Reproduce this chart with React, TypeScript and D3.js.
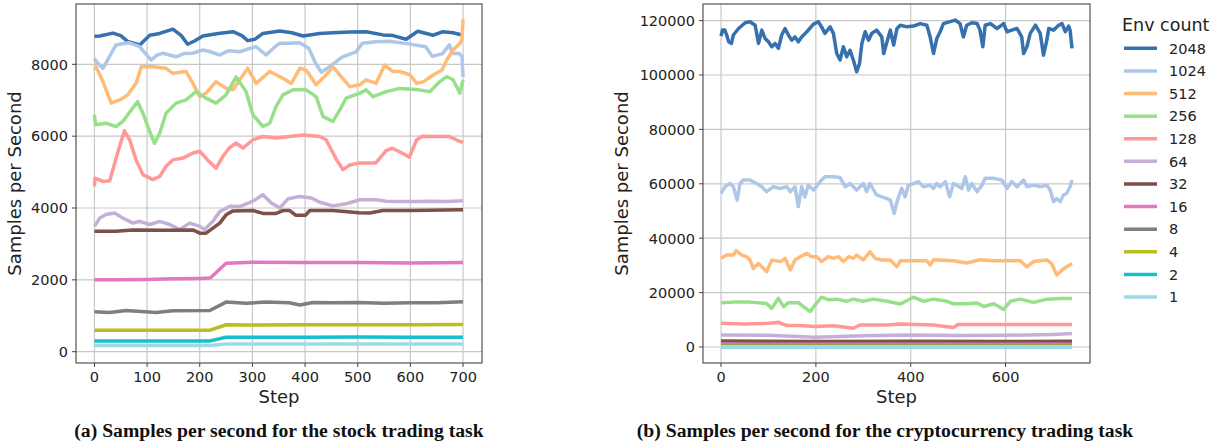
import React, { useEffect, useRef } from "react";
import * as d3 from "d3";

// legend order, also the drawing order
const envCounts = ["2048", "1024", "512", "256", "128", "64", "32", "16", "8", "4", "2", "1"];
const colors = [
  "#3571ae", "#aec7e8", "#ffbb78", "#98df8a", "#ff9896", "#c5b0d5",
  "#7d5148", "#e377c2", "#7f7f7f", "#bcbd22", "#17becf", "#9edae5",
];

// ---- (a) stock trading, [step, samples/s] ----
const stock2048 = [[0,8780],[10,8790],[35,8870],[50,8800],[63,8640],[86,8540],[105,8810],[124,8860],[149,8980],[165,8800],[177,8560],[190,8650],[206,8790],[235,8860],[263,8910],[280,8800],[291,8660],[305,8700],[320,8860],[352,8930],[375,8880],[396,8790],[428,8860],[453,8880],[485,8900],[516,8910],[548,8820],[567,8800],[592,8700],[614,8920],[643,8810],[662,8910],[681,8880],[700,8810]];
const stock1024 = [[0,8170],[5,8050],[16,7890],[28,8200],[41,8540],[55,8580],[67,8600],[86,8490],[100,8250],[108,8120],[118,8250],[130,8310],[155,8210],[170,8300],[187,8310],[206,8400],[220,8350],[238,8260],[255,8380],[276,8350],[290,8420],[307,8490],[326,8260],[340,8450],[352,8590],[370,8590],[390,8600],[407,8450],[420,8030],[431,7780],[446,7930],[471,8210],[497,8350],[509,8590],[534,8630],[560,8640],[597,8570],[629,8490],[642,8220],[661,8300],[674,8540],[680,8300],[693,8300],[698,8220],[700,7650]];
const stock512 = [[0,7850],[3,7930],[16,7520],[32,6920],[48,7010],[63,7150],[79,7470],[89,7930],[111,7930],[136,7890],[149,7750],[174,7800],[187,7470],[200,7100],[212,7200],[231,7520],[250,7330],[263,7290],[276,7570],[291,7890],[307,7470],[333,7800],[358,7610],[374,7470],[390,7890],[402,7840],[421,7430],[437,7660],[453,7930],[466,7700],[485,7380],[504,7430],[516,7570],[535,7470],[551,7980],[567,7800],[580,7800],[599,7710],[612,7470],[625,7520],[644,7710],[660,7840],[669,8120],[681,8400],[694,8580],[698,8700],[700,9250]];
const stock256 = [[0,6600],[2,6320],[22,6360],[41,6270],[54,6410],[70,6730],[82,6960],[92,6640],[105,6130],[114,5800],[124,6090],[136,6640],[155,6920],[174,7010],[193,7240],[212,7060],[231,6920],[250,7150],[269,7650],[288,7240],[301,6590],[320,6270],[333,6360],[345,6830],[358,7150],[377,7290],[402,7290],[421,7100],[434,6550],[453,6410],[466,6730],[478,7060],[504,7200],[516,7290],[529,7100],[554,7240],[580,7330],[611,7300],[637,7240],[656,7520],[669,7660],[681,7570],[694,7200],[700,7570]];
const stock128 = [[0,4600],[1,4830],[16,4740],[29,4760],[44,5530],[57,6150],[67,5900],[79,5340],[92,4930],[111,4790],[124,4880],[136,5160],[149,5340],[168,5390],[187,5530],[200,5580],[215,5340],[231,5110],[244,5440],[256,5670],[269,5810],[282,5670],[301,5900],[320,5990],[345,5950],[371,5990],[396,6030],[428,5990],[440,5900],[447,5700],[460,5340],[472,5070],[485,5200],[502,5250],[534,5250],[554,5600],[566,5665],[585,5525],[598,5415],[612,5900],[623,6000],[649,5990],[674,5990],[687,5900],[700,5820]];
const stock64 = [[0,3490],[10,3720],[22,3820],[38,3860],[54,3720],[73,3580],[86,3630],[105,3540],[124,3630],[143,3540],[162,3400],[181,3580],[200,3490],[209,3400],[225,3630],[238,3900],[257,4050],[276,4040],[301,4190],[320,4370],[336,4140],[352,4000],[368,4260],[390,4320],[412,4280],[428,4160],[453,4060],[478,4120],[504,4230],[535,4230],[554,4190],[580,4180],[611,4180],[640,4190],[670,4180],[700,4200]];
const stock32 = [[0,3350],[41,3350],[73,3390],[136,3380],[187,3390],[200,3300],[212,3300],[225,3440],[238,3580],[250,3810],[263,3920],[301,3930],[320,3850],[345,3850],[358,3930],[371,3930],[382,3800],[401,3800],[409,3930],[453,3930],[502,3870],[523,3860],[548,3930],[600,3930],[700,3950]];
const stock16 = [[0,2000],[50,2000],[100,2010],[150,2030],[200,2040],[220,2050],[250,2460],[300,2490],[400,2480],[500,2480],[600,2470],[700,2480]];
const stock8 = [[0,1115],[29,1090],[60,1145],[117,1090],[149,1140],[219,1145],[250,1380],[288,1350],[326,1380],[370,1360],[390,1300],[415,1370],[450,1360],[500,1370],[550,1350],[600,1360],[650,1360],[700,1390]];
const stock4 = [[0,600],[220,600],[250,750],[300,740],[400,750],[500,750],[600,750],[700,760]];
const stock2 = [[0,300],[220,300],[250,400],[400,400],[500,410],[600,400],[700,400]];
const stock1 = [[0,170],[220,170],[250,215],[700,215]];

// ---- (b) cryptocurrency trading ----
const crypto2048 = [[0,114300],[3,116500],[8,116500],[12,114700],[16,112200],[22,111600],[26,114700],[37,117100],[51,119200],[61,119600],[72,118300],[79,111600],[86,116500],[93,113400],[100,112200],[107,110400],[114,111600],[121,109800],[128,114700],[135,117100],[142,114700],[149,112800],[156,114000],[163,112200],[170,114000],[181,115900],[195,118700],[205,119600],[212,117700],[219,115300],[230,117700],[237,115300],[244,107900],[251,105500],[258,110400],[265,106700],[272,109100],[279,105500],[286,101200],[292,104200],[297,111600],[304,115900],[311,112800],[318,115300],[328,116500],[339,114000],[343,107900],[350,112200],[357,116500],[364,111000],[371,117100],[378,118300],[392,117700],[406,118000],[420,118900],[434,118300],[441,114000],[448,107900],[455,113400],[462,115900],[469,118900],[483,119600],[494,120200],[504,118900],[511,114000],[518,118300],[529,119200],[540,118900],[546,116500],[552,110400],[557,118300],[568,118900],[582,117100],[596,118900],[603,115900],[613,116500],[624,117100],[634,114000],[638,107900],[645,110400],[652,115300],[663,118300],[673,115300],[680,107300],[687,112800],[691,117100],[701,116500],[712,118300],[719,118900],[726,115900],[733,118000],[736,116500],[740,109800]];
const crypto1024 = [[0,56500],[8,58900],[19,60100],[26,58900],[34,54000],[40,60100],[47,61400],[61,61400],[75,60100],[86,58900],[96,57100],[110,58900],[125,58300],[139,58900],[146,57100],[156,58900],[163,51600],[170,58900],[177,55200],[184,59500],[195,57700],[209,60800],[219,62600],[237,62600],[251,62300],[262,58900],[272,60100],[286,57700],[300,60100],[307,57100],[314,60100],[322,57700],[328,55900],[339,55200],[350,54600],[357,54000],[365,49100],[372,54000],[381,58300],[388,55200],[395,59500],[406,60100],[416,60800],[427,58900],[441,59500],[448,58300],[455,60100],[462,58900],[473,60800],[482,55200],[490,60100],[497,59500],[508,58300],[515,62600],[522,57700],[529,60100],[540,57100],[550,59500],[557,62000],[575,62000],[592,61400],[603,58300],[613,60800],[624,58900],[638,61400],[645,58900],[659,59500],[673,58900],[687,59500],[694,57700],[701,53400],[708,54600],[715,53400],[722,55900],[729,56500],[736,58900],[740,61400]];
const crypto512 = [[0,32600],[12,33800],[26,33800],[32,35400],[44,33800],[54,33200],[61,32000],[68,28900],[79,30700],[86,29500],[96,27700],[107,32000],[125,31400],[135,32600],[146,28300],[156,32000],[167,33200],[181,34400],[191,33200],[202,33200],[212,31400],[226,33200],[237,32600],[248,33200],[258,31400],[269,33200],[279,32600],[286,33800],[300,32000],[314,35000],[325,32600],[339,32000],[357,32000],[371,29500],[378,31700],[406,31700],[434,31700],[441,30100],[448,32100],[490,31700],[518,30900],[546,32100],[575,31700],[631,31700],[645,29500],[659,31400],[687,32000],[697,30700],[708,26500],[719,28300],[729,29500],[740,30700]];
const crypto256 = [[0,16300],[26,16500],[61,16500],[96,16000],[107,14200],[121,17900],[132,14800],[142,16300],[163,16300],[174,14800],[188,13000],[198,15400],[212,18300],[226,17400],[244,17600],[265,16800],[279,17600],[300,16800],[321,17600],[350,16800],[378,15800],[406,18300],[427,16800],[448,17600],[476,16800],[490,15900],[518,15900],[540,16200],[554,14900],[575,15900],[596,13800],[610,16800],[631,17600],[659,16400],[687,17600],[715,17800],[740,17800]];
const crypto128 = [[0,8700],[50,8500],[100,8700],[121,9100],[139,7900],[167,7900],[198,7500],[237,7800],[279,6900],[293,8100],[350,8100],[378,8500],[448,8100],[490,7200],[500,8300],[600,8300],[740,8300]];
const crypto64 = [[0,4400],[100,4300],[198,3600],[300,4100],[400,4400],[500,4200],[600,4300],[700,4600],[740,5000]];
const crypto32 = [[0,2200],[200,2000],[400,2100],[600,2000],[740,2100]];
const crypto16 = [[0,1050],[370,1000],[740,1050]];
const crypto8 = [[0,520],[740,520]];
const crypto4 = [[0,260],[740,260]];
const crypto2 = [[0,130],[740,130]];
const crypto1 = [[0,65],[740,65]];

const stockSeries = [stock2048, stock1024, stock512, stock256, stock128, stock64, stock32, stock16, stock8, stock4, stock2, stock1];
const cryptoSeries = [crypto2048, crypto1024, crypto512, crypto256, crypto128, crypto64, crypto32, crypto16, crypto8, crypto4, crypto2, crypto1];

const stockXTicks = [0, 100, 200, 300, 400, 500, 600, 700];
const stockYTicks = [0, 2000, 4000, 6000, 8000];
const cryptoXTicks = [0, 200, 400, 600];
const cryptoYTicks = [0, 20000, 40000, 60000, 80000, 100000, 120000];

const SANS = "DejaVu Sans, sans-serif";
const SERIF = "Liberation Serif, Times New Roman, serif";

function drawPanel(svg, p) {
  const x = d3.scaleLinear().domain(p.xDomain).range([p.left, p.right]);
  const y = d3.scaleLinear().domain(p.yDomain).range([p.bottom, p.top]);
  const g = svg.append("g");

  // grid
  g.selectAll(".gx").data(p.xTicks).enter().append("line")
    .attr("x1", (d) => x(d)).attr("x2", (d) => x(d))
    .attr("y1", p.top).attr("y2", p.bottom)
    .attr("stroke", "#c8c8c8").attr("stroke-width", 1.2);
  g.selectAll(".gy").data(p.yTicks).enter().append("line")
    .attr("x1", p.left).attr("x2", p.right)
    .attr("y1", (d) => y(d)).attr("y2", (d) => y(d))
    .attr("stroke", "#c8c8c8").attr("stroke-width", 1.2);

  // series
  const line = d3.line().x((d) => x(d[0])).y((d) => y(d[1]));
  p.series.forEach((s, i) => {
    g.append("path")
      .attr("d", line(s))
      .attr("fill", "none")
      .attr("stroke", colors[i])
      .attr("stroke-width", 3.5)
      .attr("stroke-linejoin", "round")
      .attr("stroke-linecap", "butt");
  });

  // frame
  g.append("rect")
    .attr("x", p.left).attr("y", p.top)
    .attr("width", p.right - p.left).attr("height", p.bottom - p.top)
    .attr("fill", "none").attr("stroke", "#444").attr("stroke-width", 1.1);

  // ticks + labels
  p.xTicks.forEach((t) => {
    g.append("line").attr("x1", x(t)).attr("x2", x(t))
      .attr("y1", p.bottom).attr("y2", p.bottom + 4).attr("stroke", "#444");
    g.append("text").attr("x", x(t)).attr("y", p.bottom + 18.5)
      .attr("text-anchor", "middle").attr("font-family", SANS)
      .attr("font-size", 14.5).attr("fill", "#222").text(t);
  });
  p.yTicks.forEach((t) => {
    g.append("line").attr("x1", p.left - 4).attr("x2", p.left)
      .attr("y1", y(t)).attr("y2", y(t)).attr("stroke", "#444");
    g.append("text").attr("x", p.left - 8).attr("y", y(t) + 5.3)
      .attr("text-anchor", "end").attr("font-family", SANS)
      .attr("font-size", 14.5).attr("fill", "#222").text(t);
  });

  // axis titles
  g.append("text").attr("x", (p.left + p.right) / 2).attr("y", 403)
    .attr("text-anchor", "middle").attr("font-family", SANS)
    .attr("font-size", 18).attr("fill", "#222").text("Step");
  g.append("text")
    .attr("transform", `translate(${p.yLabelX},${(p.top + p.bottom) / 2}) rotate(-90)`)
    .attr("text-anchor", "middle").attr("font-family", SANS)
    .attr("font-size", 18).attr("fill", "#222").text("Samples per Second");

  // caption
  g.append("text").attr("x", p.captionX).attr("y", 437)
    .attr("text-anchor", "middle").attr("font-family", SERIF)
    .attr("font-weight", "bold").attr("font-size", 19.7).attr("fill", "#111")
    .text(p.caption);
}

export default function App() {
  const svgRef = useRef(null);

  useEffect(() => {
    const svg = d3.select(svgRef.current);
    svg.selectAll("*").remove();

    drawPanel(svg, {
      left: 76, right: 482, top: 4, bottom: 363,
      xDomain: [-35, 736], yDomain: [-315, 9680],
      xTicks: stockXTicks, yTicks: stockYTicks,
      series: stockSeries, yLabelX: 21,
      caption: "(a) Samples per second for the stock trading task", captionX: 279,
    });

    drawPanel(svg, {
      left: 703, right: 1090, top: 4, bottom: 363,
      xDomain: [-38, 778], yDomain: [-5880, 126100],
      xTicks: cryptoXTicks, yTicks: cryptoYTicks,
      series: cryptoSeries, yLabelX: 628,
      caption: "(b) Samples per second for the cryptocurrency trading task", captionX: 885,
    });

    // legend
    const lg = svg.append("g");
    lg.append("text").attr("x", 1122).attr("y", 31)
      .attr("font-family", SANS).attr("font-size", 17.5).attr("fill", "#222")
      .text("Env count");
    const legendY = d3.scaleLinear().domain([0, 11]).range([48.3, 297]);
    envCounts.forEach((label, i) => {
      lg.append("line").attr("x1", 1124).attr("x2", 1157)
        .attr("y1", legendY(i)).attr("y2", legendY(i))
        .attr("stroke", colors[i]).attr("stroke-width", 3.5);
      lg.append("text").attr("x", 1169).attr("y", legendY(i) + 5.3)
        .attr("font-family", SANS).attr("font-size", 14.5).attr("fill", "#222")
        .text(label);
    });
  }, []);

  return (
    <svg
      ref={svgRef}
      width={1225}
      height={448}
      style={{ position: "absolute", left: 0, top: 0, background: "#fff" }}
    />
  );
}
